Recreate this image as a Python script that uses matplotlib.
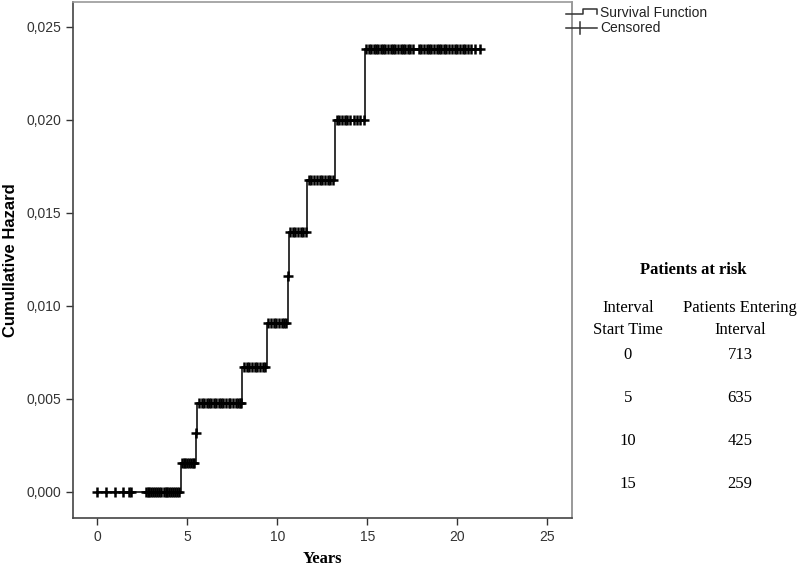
import numpy as np
import matplotlib
matplotlib.use('Agg')
import matplotlib.pyplot as plt
from matplotlib.lines import Line2D
from matplotlib.ticker import FuncFormatter

# step function (event times and cumulative hazard after each step)
step_times = [0, 4.65, 5.48, 5.52, 8.05, 9.42, 10.58, 10.63, 11.65, 13.2, 14.87]
hazard = [0, 0.00156, 0.00317, 0.00478, 0.00674, 0.00909, 0.0116, 0.0140, 0.01677, 0.0200, 0.0238]

# censored observations (years)
censor_times = [
    0.0, 0.48, 1.0, 1.45, 1.75, 1.9,
    2.7, 2.8, 2.9, 3.0, 3.1, 3.2, 3.35, 3.45, 3.55, 3.7, 3.8, 3.9, 4.0, 4.1,
    4.2, 4.3, 4.45, 4.55,
    4.7, 4.8, 4.9, 5.0, 5.1, 5.2, 5.3, 5.4,
    5.5,
    5.65, 5.8, 5.95, 6.1, 6.2, 6.35, 6.5, 6.6, 6.75, 6.9, 7.0, 7.15, 7.3,
    7.4, 7.55, 7.7, 7.8, 7.95, 8.0,
    8.15, 8.3, 8.45, 8.6, 8.75, 8.9, 9.05, 9.2, 9.35,
    9.5, 9.65, 9.8, 9.95, 10.1, 10.25, 10.4, 10.5,
    10.6,
    10.7, 10.85, 11.0, 11.15, 11.3, 11.45, 11.6,
    11.75, 11.9, 12.05, 12.2, 12.35, 12.5, 12.65, 12.8, 12.95, 13.1,
    13.3, 13.45, 13.6, 13.75, 13.9, 14.05, 14.25, 14.45, 14.6, 14.8,
    14.95, 15.1, 15.2, 15.35, 15.5, 15.6, 15.75, 15.9, 16.0, 16.15, 16.3,
    16.45, 16.55, 16.7, 16.85, 17.0, 17.1, 17.25, 17.4, 17.55, 17.9, 18.0,
    18.15, 18.3, 18.45, 18.55, 18.7, 18.85, 19.0, 19.1, 19.25, 19.4, 19.55,
    19.7, 19.85, 20.0, 20.15, 20.3, 20.45, 20.6, 20.75, 21.0, 21.25,
]

# patients at risk table
risk_start = ['0', '5', '10', '15']
risk_n = ['713', '635', '425', '259']

line_col = '#333333'

fig = plt.figure(figsize=(8, 5.67), dpi=100)
ax = fig.add_axes([0.091, 0.0864, 0.624, 0.910])

xs = step_times + [censor_times[-1]]
ys = hazard + [hazard[-1]]
ax.step(xs, ys, where='post', color=line_col, lw=1.4)

idx = np.searchsorted(step_times, censor_times, side='right') - 1
cy = np.array(hazard)[idx]
ax.plot(censor_times, cy, linestyle='none', marker='+', ms=7.5, mew=1.8,
        color='black')

ax.set_xlim(-1.35, 26.37)
ax.set_ylim(-0.0014, 0.02634)
ax.set_xticks([0, 5, 10, 15, 20, 25])
ax.set_yticks([0, 0.005, 0.01, 0.015, 0.02, 0.025])
ax.yaxis.set_major_formatter(FuncFormatter(lambda v, p: f'{v:.3f}'.replace('.', ',')))
ax.tick_params(direction='out', length=5, width=1, color='#333333',
               labelsize=10, labelcolor='#333333')
for lab in ax.get_xticklabels() + ax.get_yticklabels():
    lab.set_family('Liberation Sans')
for s in ax.spines.values():
    s.set_color('#444444')
    s.set_linewidth(1.2)
ax.spines['top'].set_color('#999999')
ax.spines['right'].set_color('#888888')

ax.set_xlabel('Years', family='Liberation Serif', fontweight='bold', fontsize=12,
              labelpad=5)
ax.set_ylabel('Cumullative Hazard', family='Liberation Sans', fontweight='bold',
              fontsize=12, labelpad=6)

# legend drawn by hand in pixel coordinates
W, H = 800, 567
def fx(px):
    return px / W
def fy(py):
    return 1 - py / H

fig.add_artist(Line2D([fx(566), fx(583), fx(583), fx(597), fx(597)],
                      [fy(13.5), fy(13.5), fy(8.5), fy(8.5), fy(13.5)],
                      color=line_col, lw=1.1))
fig.add_artist(Line2D([fx(566), fx(597)], [fy(28), fy(28)], color=line_col, lw=1.1))
fig.add_artist(Line2D([fx(580), fx(580)], [fy(22), fy(34)], color=line_col, lw=1.1))
fig.text(fx(600), fy(13), 'Survival Function', family='Liberation Sans',
         fontsize=10, color='#222222', va='center', ha='left')
fig.text(fx(600), fy(28.5), 'Censored', family='Liberation Sans',
         fontsize=10, color='#222222', va='center', ha='left')

# patients at risk table
serif = 'Liberation Serif'
fs = 12
fig.text(fx(693), fy(270), 'Patients at risk', family=serif, fontweight='bold',
         fontsize=fs, ha='center', va='center')
fig.text(fx(628), fy(308), 'Interval', family=serif, fontsize=fs,
         ha='center', va='center')
fig.text(fx(628), fy(330), 'Start Time', family=serif, fontsize=fs,
         ha='center', va='center')
fig.text(fx(740), fy(308), 'Patients Entering', family=serif, fontsize=fs,
         ha='center', va='center')
fig.text(fx(740), fy(330), 'Interval', family=serif, fontsize=fs,
         ha='center', va='center')
row_y = [355, 398, 441, 484]
for s, n, y in zip(risk_start, risk_n, row_y):
    fig.text(fx(628), fy(y), s, family=serif, fontsize=fs, ha='center', va='center')
    fig.text(fx(740), fy(y), n, family=serif, fontsize=fs, ha='center', va='center')

fig.savefig('out.png', dpi=100)
